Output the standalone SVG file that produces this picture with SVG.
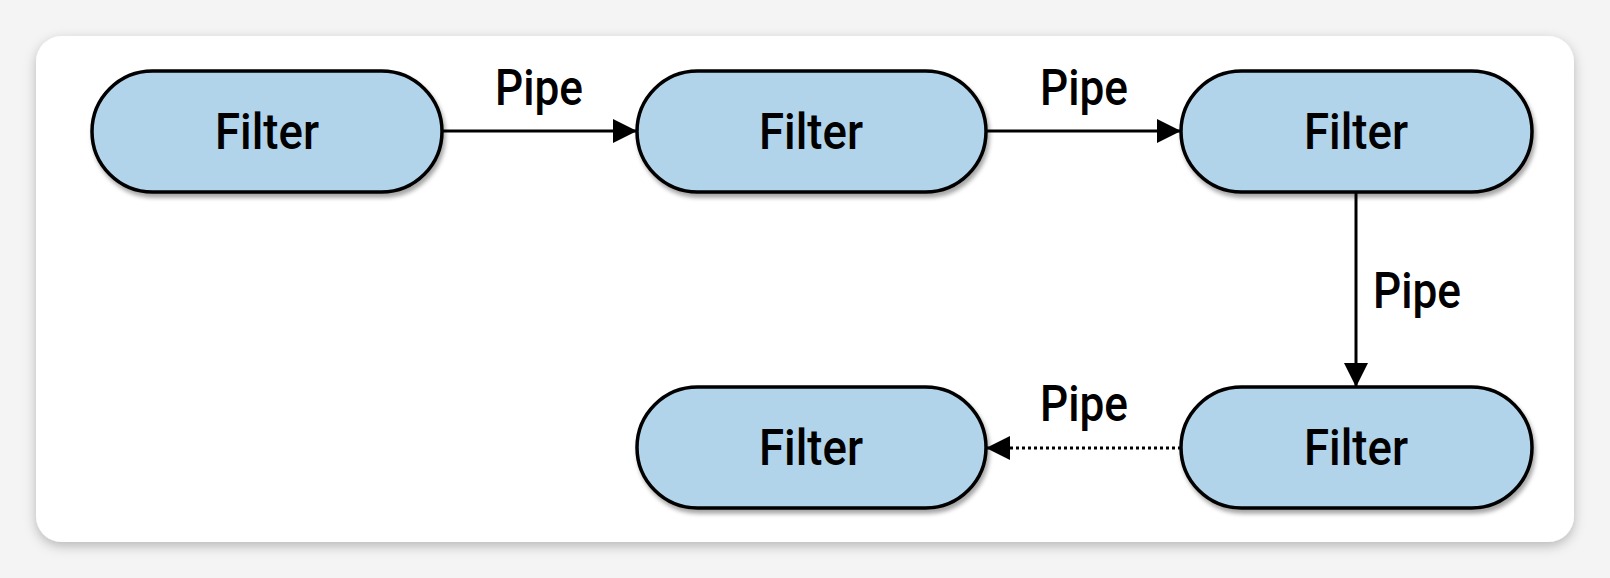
<svg xmlns="http://www.w3.org/2000/svg" width="1610" height="578" viewBox="0 0 1610 578">
<defs>
<filter id="sh" x="-10%" y="-10%" width="120%" height="120%"><feDropShadow dx="0" dy="4" stdDeviation="6" flood-color="#000" flood-opacity="0.25"/></filter>
<filter id="nsh" x="-10%" y="-10%" width="120%" height="130%"><feDropShadow dx="2" dy="4" stdDeviation="2" flood-color="#000" flood-opacity="0.35"/></filter>
<marker id="ah" viewBox="0 0 10 10" refX="10" refY="5" markerWidth="24" markerHeight="24" markerUnits="userSpaceOnUse" orient="auto"><path d="M0,0 L10,5 L0,10 Z" fill="#000"/></marker>
<style>
.n{fill:#b2d4ea;stroke:#000;stroke-width:3.5;filter:url(#nsh)}
.t{font-family:Roboto,"Liberation Sans",Arial,sans-serif;font-weight:500;font-size:50px;fill:#000;text-anchor:middle}
.c{stroke:#000;stroke-width:3;fill:none;marker-end:url(#ah)}
</style>
</defs>
<rect width="1610" height="578" fill="#f4f4f4"/>
<rect x="36" y="36" width="1538" height="506" rx="26" fill="#fff" filter="url(#sh)"/>
<g id="connectors">
<line class="c" x1="442" y1="131" x2="637" y2="131"/>
<line class="c" x1="986" y1="131" x2="1181" y2="131"/>
<line class="c" x1="1356" y1="192" x2="1356" y2="387"/>
<line class="c" x1="1181" y1="448" x2="986" y2="448" stroke-dasharray="3,3" stroke-width="3.5"/>
<text class="t" x="539" y="105" textLength="88" lengthAdjust="spacingAndGlyphs">Pipe</text>
<text class="t" x="1084" y="105" textLength="88" lengthAdjust="spacingAndGlyphs">Pipe</text>
<text class="t" x="1417" y="308" textLength="88" lengthAdjust="spacingAndGlyphs">Pipe</text>
<text class="t" x="1084" y="421" textLength="88" lengthAdjust="spacingAndGlyphs">Pipe</text>
</g>
<g id="n1"><rect class="n" x="92" y="71" width="350" height="121" rx="60.5"/><text class="t" x="267" y="149" textLength="104" lengthAdjust="spacingAndGlyphs">Filter</text></g>
<g id="n2"><rect class="n" x="637" y="71" width="349" height="121" rx="60.5"/><text class="t" x="811" y="149" textLength="104" lengthAdjust="spacingAndGlyphs">Filter</text></g>
<g id="n3"><rect class="n" x="1181" y="71" width="351" height="121" rx="60.5"/><text class="t" x="1356" y="149" textLength="104" lengthAdjust="spacingAndGlyphs">Filter</text></g>
<g id="n4"><rect class="n" x="637" y="387" width="349" height="121" rx="60.5"/><text class="t" x="811" y="465" textLength="104" lengthAdjust="spacingAndGlyphs">Filter</text></g>
<g id="n5"><rect class="n" x="1181" y="387" width="351" height="121" rx="60.5"/><text class="t" x="1356" y="465" textLength="104" lengthAdjust="spacingAndGlyphs">Filter</text></g>
</svg>
